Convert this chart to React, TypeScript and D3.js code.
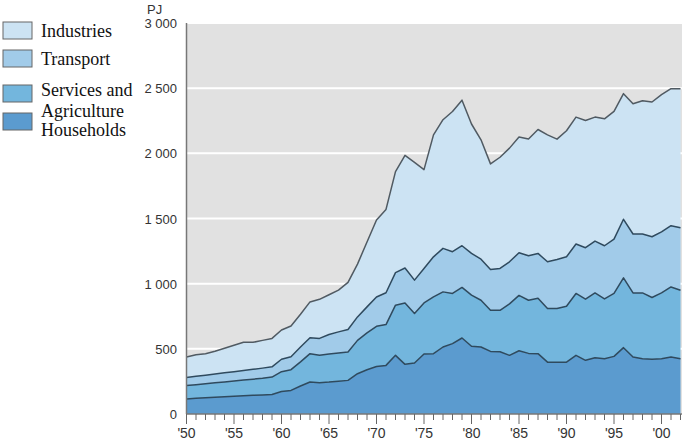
import React from "react";
import * as d3 from "d3";

const years: number[] = d3.range(1950, 2003);

const households: number[] = [
  116, 120, 124, 128, 132, 136, 140, 143, 146, 150,
  172, 181, 215, 245, 240, 245, 252, 258, 309, 340,
  365, 373, 450, 381, 391, 460, 463, 514, 540, 583,
  520, 514, 480, 478, 450, 485, 465, 463, 398, 398,
  398, 450, 412, 432, 424, 442, 509, 437, 424, 421,
  424, 437, 424,
];
const services: number[] = [
  102, 105, 108, 111, 114, 117, 120, 124, 128, 133,
  153, 159, 185, 218, 210, 215, 216, 218, 256, 282,
  308, 313, 385, 471, 380, 392, 435, 423, 385, 388,
  392, 359, 316, 318, 395, 425, 408, 425, 411, 411,
  429, 475, 469, 497, 459, 483, 536, 492, 505, 473,
  505, 538, 526,
];
const transport: number[] = [
  62, 64, 66, 68, 70, 72, 74, 76, 78, 79,
  95, 100, 114, 122, 130, 150, 162, 172, 180, 200,
  225, 244, 250, 268, 256, 265, 308, 334, 320, 320,
  320, 315, 313, 321, 323, 327, 341, 344, 359, 377,
  379, 379, 395, 398, 408, 417, 449, 452, 452, 466,
  469, 470, 479,
];
const industries: number[] = [
  157, 166, 165, 174, 188, 202, 216, 207, 213, 218,
  225, 235, 251, 275, 300, 305, 320, 362, 405, 498,
  590, 640, 775, 865, 903, 758, 936, 987, 1076, 1117,
  993, 916, 810, 853, 872, 888, 896, 951, 974, 923,
  967, 974, 976, 951, 974, 980, 964, 1000, 1023, 1034,
  1052, 1051, 1067,
];

const seriesKeys = ["households", "services", "transport", "industries"];
const legendLabels: string[][] = [
  ["Industries"],
  ["Transport"],
  ["Services and", "Agriculture"],
  ["Households"],
];
const yTicks: number[] = [0, 500, 1000, 1500, 2000, 2500, 3000];
const xTickLabels: number[] = [1950, 1955, 1960, 1965, 1970, 1975, 1980, 1985, 1990, 1995, 2000];

const colors: Record<string, string> = {
  households: "#5b9bcf",
  services: "#73b6dd",
  transport: "#a1cbe9",
  industries: "#cce3f3",
};
const legendColors = [colors.industries, colors.transport, colors.services, colors.households];

const fmt = (v: number) => {
  if (v >= 1000) {
    const th = Math.floor(v / 1000);
    const rest = String(v % 1000).padStart(3, "0");
    return `${th} ${rest}`;
  }
  return String(v);
};

export default function App() {
  const left = 186.5;
  const right = 680.5;
  const top = 23;
  const bottom = 414;

  const x = d3.scaleLinear().domain([1950, 2002]).range([left, right]);
  const y = d3.scaleLinear().domain([0, 3000]).range([bottom, top]);

  const table = years.map((yr, i) => ({
    year: yr,
    households: households[i],
    services: services[i],
    transport: transport[i],
    industries: industries[i],
  }));
  const stack = d3.stack<any>().keys(seriesKeys);
  const stacked = stack(table);

  const area = d3
    .area<any>()
    .x((d) => x(d.data.year))
    .y0((d) => y(d[0]))
    .y1((d) => y(d[1]));
  const line = d3
    .line<any>()
    .x((d) => x(d.data.year))
    .y((d) => y(d[1]));

  const legendBoxes = [
    { y: 22, textY: [37] },
    { y: 50, textY: [65] },
    { y: 85, textY: [96, 117] },
    { y: 113, textY: [136] },
  ];

  return (
    <svg
      width={685}
      height={442}
      style={{ position: "absolute", left: 0, top: 0, background: "#fff" }}
    >
      <rect x={left} y={top} width={682 - left} height={bottom - top} fill="#e1e1e1" />
      {yTicks.map((t) => (
        <line key={"g" + t} x1={left} x2={682} y1={y(t)} y2={y(t)} stroke="#fff" strokeWidth={2} />
      ))}
      {stacked.map((s) => (
        <path key={s.key} d={area(s) || ""} fill={colors[s.key]} />
      ))}
      {stacked.map((s) => (
        <path
          key={"l" + s.key}
          d={line(s) || ""}
          fill="none"
          stroke={s.key === "industries" ? "#505a62" : "#2f4a5e"}
          strokeWidth={1.5}
          strokeLinejoin="round"
        />
      ))}
      <line x1={left} x2={left} y1={top} y2={bottom} stroke="#777" strokeWidth={1.5} />
      <line x1={left} x2={682} y1={bottom} y2={bottom} stroke="#777" strokeWidth={1.5} />
      {years.map((yr) => (
        <line
          key={"t" + yr}
          x1={x(yr)}
          x2={x(yr)}
          y1={bottom}
          y2={bottom + (yr % 5 === 0 ? 10 : 6)}
          stroke="#666"
          strokeWidth={1}
        />
      ))}
      {xTickLabels.map((yr) => (
        <text
          key={"xl" + yr}
          x={x(yr)}
          y={438}
          textAnchor="middle"
          fontFamily="Liberation Sans, Arial, sans-serif"
          fontSize={14}
          fill="#333"
        >
          {"'" + String(yr % 100).padStart(2, "0")}
        </text>
      ))}
      {yTicks.map((t) => (
        <text
          key={"yl" + t}
          x={177}
          y={y(t) + 5}
          textAnchor="end"
          fontFamily="Liberation Sans, Arial, sans-serif"
          fontSize={13}
          fill="#333"
        >
          {fmt(t)}
        </text>
      ))}
      <text x={147} y={14} fontFamily="Liberation Sans, Arial, sans-serif" fontSize={13} fill="#333">
        PJ
      </text>
      {legendBoxes.map((b, i) => (
        <g key={"lg" + i}>
          <rect x={3} y={b.y} width={29} height={17} fill={legendColors[i]} stroke="#666" strokeWidth={1} />
          {legendLabels[i].map((txt, j) => (
            <text
              key={j}
              x={41}
              y={b.textY[j]}
              fontFamily="Liberation Serif, Times New Roman, serif"
              fontSize={18}
              fill="#111"
            >
              {txt}
            </text>
          ))}
        </g>
      ))}
    </svg>
  );
}
